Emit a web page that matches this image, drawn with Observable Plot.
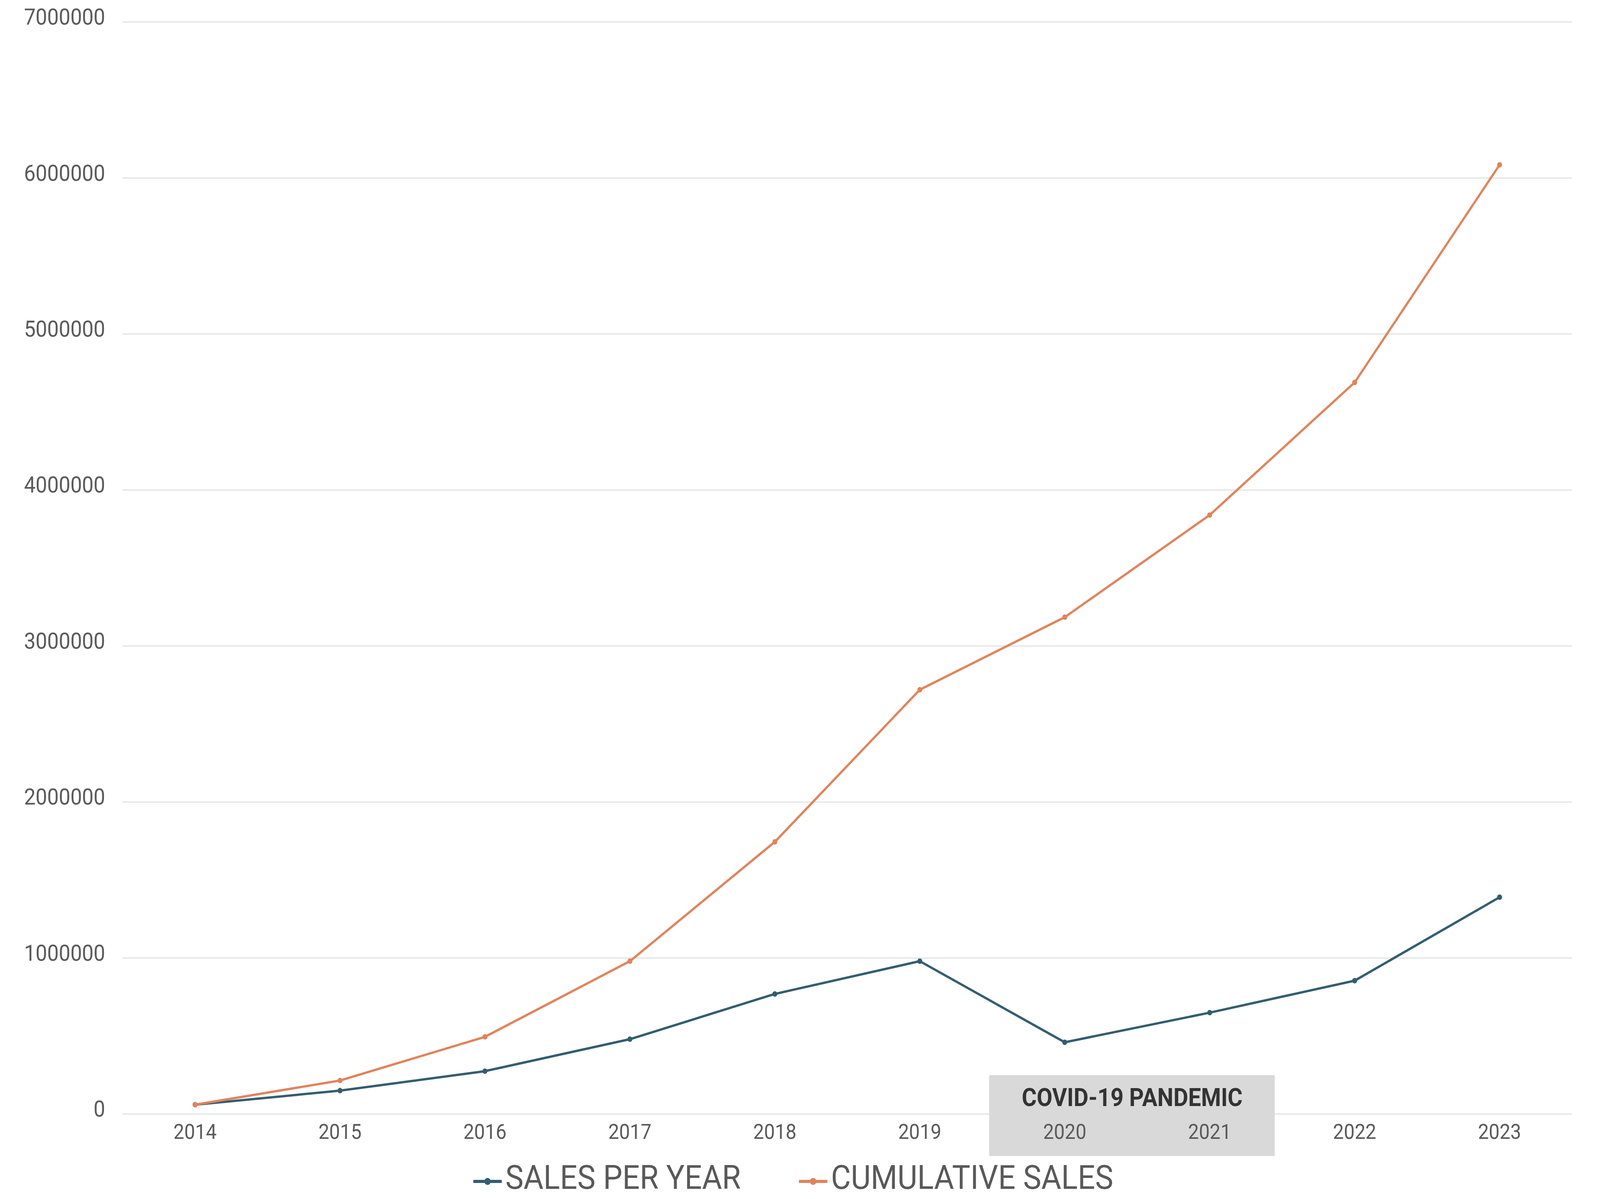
<!DOCTYPE html>
<html>
<head>
<meta charset="utf-8">
<script src="https://cdn.jsdelivr.net/npm/d3@7"></script>
<script src="https://cdn.jsdelivr.net/npm/@observablehq/plot@0.6"></script>
<style>
  html, body { margin: 0; padding: 0; background: #ffffff; overflow: hidden; }
  #page { position: absolute; left: 0; top: 0; width: 4496px; height: 3070px; transform-origin: 0 0; background: #ffffff; }
  #chart svg { display: block; }
  #legend { display: block; }
</style>
</head>
<body>
<div id="page">
  <div id="chart"></div>
  <svg id="legend" width="4496" height="140"></svg>
</div>
<script>
// ---- data ----
const years = [2014, 2015, 2016, 2017, 2018, 2019, 2020, 2021, 2022, 2023];
const salesPerYear = [60000, 150000, 275000, 480000, 770000, 980000, 460000, 650000, 855000, 1390000];
const cumulativeSales = [60000, 215000, 495000, 980000, 1745000, 2720000, 3185000, 3840000, 4690000, 6085000];
const seriesNames = ["SALES PER YEAR", "CUMULATIVE SALES"];
const seriesColors = ["#335d70", "#df845d"];
const yTicks = [0, 1000000, 2000000, 3000000, 4000000, 5000000, 6000000, 7000000];
const covidLabel = "COVID-19 PANDEMIC";
const covidYears = [2019.48, 2021.45];
const covidValues = [-270000, 248000];
const covidLabelValue = 103000;

// ---- table ----
const rows = years.flatMap((year, i) => [
  {year, value: salesPerYear[i], series: seriesNames[0]},
  {year, value: cumulativeSales[i], series: seriesNames[1]}
]);
const covid = [{
  x1: covidYears[0], x2: covidYears[1],
  y1: covidValues[0], y2: covidValues[1],
  xm: (covidYears[0] + covidYears[1]) / 2, ym: covidLabelValue, label: covidLabel
}];

const font = "Roboto, 'Liberation Sans', sans-serif";

const chart = Plot.plot({
  width: 4496,
  height: 2930,
  marginLeft: 344,
  marginRight: 79,
  marginTop: 56,
  marginBottom: 78,
  style: {fontFamily: font, fontSize: "54px", color: "#595959", background: "transparent", overflow: "visible"},
  x: {domain: [2013.5, 2023.5], axis: null},
  y: {domain: [0, 7000000], axis: null},
  color: {domain: seriesNames, range: seriesColors},
  marks: [
    Plot.ruleY(yTicks, {stroke: "#e8e8e8", strokeWidth: 4}),
    Plot.rect(covid, {x1: "x1", x2: "x2", y1: "y1", y2: "y2", fill: "#d9d9d9"}),
    Plot.axisX({ticks: years, tickFormat: d => String(d), tickSize: 0, tickPadding: 25, fontSize: 54, fill: "#5a5a5a"}),
    Plot.axisY({ticks: yTicks, tickFormat: d => String(d), tickSize: 0, tickPadding: 49, dy: -12, fontSize: 58, fill: "#5a5a5a"}),
    Plot.text(covid, {x: "xm", y: "ym", text: "label", fontWeight: "bold", fontSize: 64, fill: "#333333"}),
    Plot.line(rows, {x: "year", y: "value", z: "series", stroke: "series", strokeWidth: 6}),
    Plot.dot(rows, {x: "year", y: "value", fill: "series", r: 7})
  ]
});
document.getElementById("chart").appendChild(chart);

// ---- legend ----
const legend = d3.select("#legend");
const items = [
  {name: seriesNames[0], color: seriesColors[0], x: 1330},
  {name: seriesNames[1], color: seriesColors[1], x: 2245}
];
const g = legend.selectAll("g").data(items).join("g").attr("transform", d => `translate(${d.x},0)`);
g.append("line").attr("x1", 0).attr("x2", 80).attr("y1", 95).attr("y2", 95)
  .attr("stroke", d => d.color).attr("stroke-width", 8);
g.append("circle").attr("cx", 40).attr("cy", 95).attr("r", 9).attr("fill", d => d.color);
g.append("text").attr("x", 90).attr("y", 114).text(d => d.name)
  .attr("font-family", font).attr("font-size", 86).attr("fill", "#595959");

// ---- fit the 4496x3070 design to the actual viewport ----
function fit() {
  const W = document.documentElement.clientWidth || 4496;
  const H = document.documentElement.clientHeight || 3070;
  document.getElementById("page").style.transform = `scale(${W / 4496}, ${H / 3070})`;
}
fit();
window.addEventListener("resize", fit);
</script>
</body>
</html>
